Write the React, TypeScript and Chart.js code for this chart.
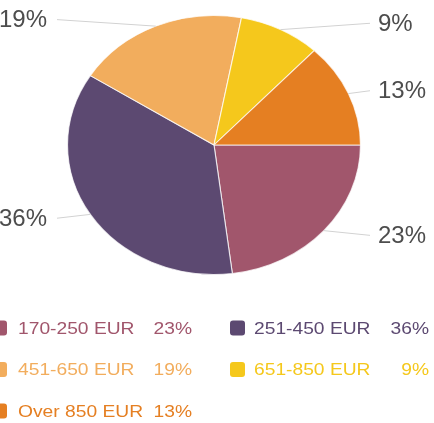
import { useEffect, useRef } from "react";
import { Chart, registerables } from "chart.js";

Chart.register(...registerables);

// ---- data ----
const categories = ["170-250 EUR", "251-450 EUR", "451-650 EUR", "651-850 EUR", "Over 850 EUR"];
const shares = [23, 36, 19, 9, 13];
const sliceColors = ["#a1566c", "#5c4971", "#f2ad5d", "#f5c81c", "#e57f22"];

const W = 434;
const H = 423;
const X_STRETCH = 1.131;
const FONT = '"Liberation Sans", Arial, Helvetica, sans-serif';

const total = shares.reduce((a, b) => a + b, 0);
const pctText = (v: number) => `${Math.round((v / total) * 100)}%`;

const ellipsePlugin = {
  id: "ellipse",
  beforeDatasetsDraw(chart: any) {
    const arc = chart.getDatasetMeta(0).data[0];
    if (!arc) return;
    const ctx = chart.ctx;
    ctx.save();
    ctx.translate(arc.x, arc.y);
    ctx.scale(X_STRETCH, 1);
    ctx.translate(-arc.x, -arc.y);
  },
  afterDatasetsDraw(chart: any) {
    chart.ctx.restore();
  },
};

const labelsPlugin = {
  id: "outLabels",
  afterDraw(chart: any) {
    const ctx = chart.ctx;
    const meta = chart.getDatasetMeta(0);
    meta.data.forEach((arc: any, i: number) => {
      const { x, y, startAngle, endAngle, outerRadius } = arc.getProps(
        ["x", "y", "startAngle", "endAngle", "outerRadius"],
        true
      );
      const mid = (startAngle + endAngle) / 2;
      const c = Math.cos(mid);
      const s = Math.sin(mid);
      const ex = x + X_STRETCH * outerRadius * c;
      const ey = y + outerRadius * s;
      const ty = y + 1.055 * outerRadius * s;
      const left = c < 0;
      ctx.save();
      ctx.strokeStyle = "#d2d2d2";
      ctx.lineWidth = 1;
      ctx.beginPath();
      ctx.moveTo(ex, ey);
      ctx.lineTo(left ? 57 : 370, ty);
      ctx.stroke();
      ctx.font = `24px ${FONT}`;
      ctx.fillStyle = "#4d4d4d";
      ctx.textBaseline = "middle";
      ctx.textAlign = left ? "right" : "left";
      ctx.fillText(pctText(shares[i]), left ? 47 : 378, ty + 1);
      ctx.restore();
    });
  },
};

const legendPlugin = {
  id: "customLegend",
  afterDraw(chart: any) {
    const ctx = chart.ctx;
    const rowTop = 328;
    const rowGap = 41.5;
    const cols = [
      { m: -8, t: 18, p: 192 },
      { m: 230, t: 254, p: 429 },
    ];
    categories.forEach((cat, i) => {
      const col = cols[i % 2];
      const ry = rowTop + Math.floor(i / 2) * rowGap;
      const color = sliceColors[i];
      ctx.save();
      ctx.fillStyle = color;
      ctx.beginPath();
      (ctx as any).roundRect(col.m, ry - 7.5, 15, 15, 3);
      ctx.fill();
      ctx.font = `17px ${FONT}`;
      ctx.textBaseline = "middle";
      ctx.save();
      ctx.translate(col.t, ry + 1);
      ctx.scale(X_STRETCH, 1);
      ctx.textAlign = "left";
      ctx.fillText(cat, 0, 0);
      ctx.restore();
      ctx.save();
      ctx.translate(col.p, ry + 1);
      ctx.scale(X_STRETCH, 1);
      ctx.textAlign = "right";
      ctx.fillText(pctText(shares[i]), 0, 0);
      ctx.restore();
      ctx.restore();
    });
  },
};

export default function App() {
  const ref = useRef<HTMLCanvasElement | null>(null);

  useEffect(() => {
    document.body.style.margin = "0";
    const canvas = ref.current;
    if (!canvas) return;
    const chart = new Chart(canvas, {
      type: "pie",
      data: {
        labels: categories,
        datasets: [
          {
            data: shares,
            backgroundColor: sliceColors,
            borderColor: "rgba(255,255,255,0.75)",
            borderWidth: 1,
          },
        ],
      },
      options: {
        responsive: false,
        animation: false,
        devicePixelRatio: 1,
        rotation: 90,
        layout: { padding: { top: 15, bottom: 148, left: 84, right: 90 } },
        plugins: {
          legend: { display: false },
          tooltip: { enabled: false },
          title: { display: false },
        },
      },
      plugins: [ellipsePlugin, labelsPlugin, legendPlugin],
    });
    return () => chart.destroy();
  }, []);

  return (
    <canvas
      ref={ref}
      width={W}
      height={H}
      style={{ display: "block", width: W, height: H }}
    />
  );
}
